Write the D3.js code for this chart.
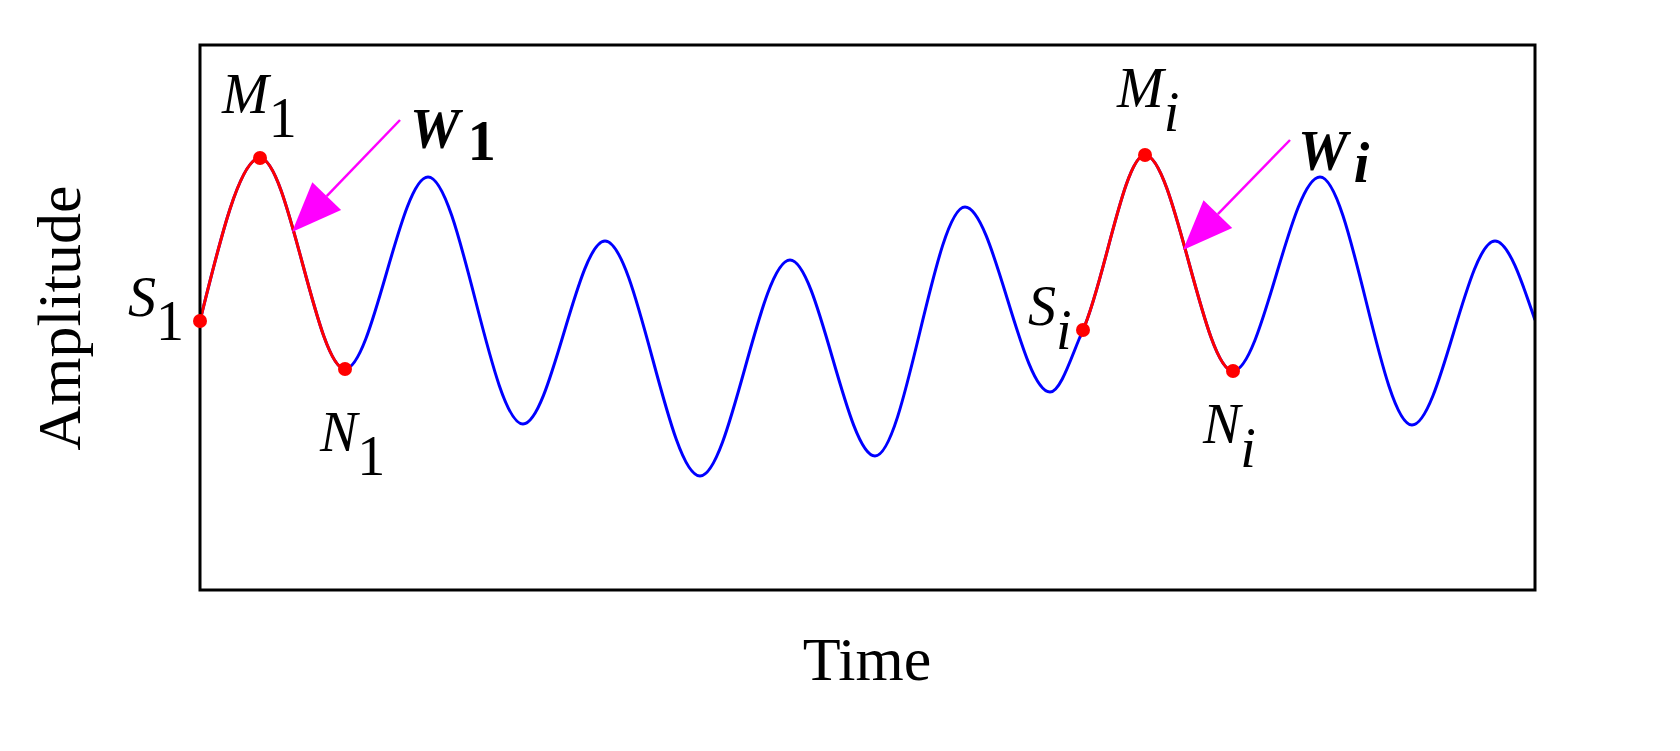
<!DOCTYPE html><html><head><meta charset="utf-8">
<script src="https://cdn.jsdelivr.net/npm/d3@7"></script>
<style>body{margin:0;background:#fff}text{font-family:"Liberation Serif","Times New Roman",serif}</style></head><body>
<svg id="c" width="1680" height="751"></svg>
<script>
// time (arbitrary units) and amplitude of wave extrema / marked points
const times = [0, 60, 145, 228, 323, 405, 500, 590, 675, 765, 850, 883, 945, 1033, 1120, 1212, 1295, 1335];
const amps  = [269, 432, 221, 413, 166, 349, 114, 330, 134, 383, 198, 260, 435, 219, 413, 165, 349, 270];
const marked = [
  {i:0, label:"S", sub:"1", dx:-72, dy:-5},
  {i:1, label:"M", sub:"1", dx:-38, dy:-45},
  {i:2, label:"N", sub:"1", dx:-25, dy:82},
  {i:11, label:"S", sub:"i", dx:-55, dy:-5},
  {i:12, label:"M", sub:"i", dx:-28, dy:-48},
  {i:13, label:"N", sub:"i", dx:-30, dy:72}
];
const redRanges = [[0,2],[11,13]];
const wLabels = [{sub:"1", from:[400,120], to:[292,232], tx:410, ty:148},
                 {sub:"i", from:[1290,140], to:[1183,250], tx:1298, ty:170}];

const svg = d3.select("#c");
const x = d3.scaleLinear().domain([0,1335]).range([200,1535]);
const y = d3.scaleLinear().domain([0,545]).range([590,45]);
const pts = times.map((t,i)=>[t,amps[i]]);
const line = d3.line().x(d=>x(d[0])).y(d=>y(d[1])).curve(d3.curveMonotoneX);

const defs = svg.append("defs");
redRanges.forEach((r,k)=>{
  defs.append("clipPath").attr("id","cl"+k).append("rect")
    .attr("x",x(times[r[0]])-2).attr("width",x(times[r[1]])-x(times[r[0]])+2).attr("y",0).attr("height",751);
});
defs.append("clipPath").attr("id","frame").append("rect").attr("x",200).attr("y",45).attr("width",1335).attr("height",545);

const g = svg.append("g").attr("clip-path","url(#frame)");
g.append("path").attr("d",line(pts)).attr("fill","none").attr("stroke","#0000ff").attr("stroke-width",3);
redRanges.forEach((r,k)=>{
  g.append("g").attr("clip-path",`url(#cl${k})`).append("path").attr("d",line(pts))
   .attr("fill","none").attr("stroke","#ff0000").attr("stroke-width",3);
});
svg.append("rect").attr("x",200).attr("y",45).attr("width",1335).attr("height",545)
  .attr("fill","none").attr("stroke","#000").attr("stroke-width",3);

marked.forEach(m=>{
  const px=x(times[m.i]), py=y(amps[m.i]);
  svg.append("circle").attr("cx",px).attr("cy",py).attr("r",7).attr("fill","#ff0000");
  const t=svg.append("text").attr("x",px+m.dx).attr("y",py+m.dy).attr("font-size",56);
  t.append("tspan").attr("font-style","italic").text(m.label);
  t.append("tspan").attr("dy",24).attr("font-style",m.sub==="i"?"italic":"normal").text(m.sub);
});

wLabels.forEach(w=>{
  const [x1,y1]=w.from,[x2,y2]=w.to;
  const ang=Math.atan2(y2-y1,x2-x1), L=50, H=20;
  const bx=x2-L*Math.cos(ang), by=y2-L*Math.sin(ang);
  svg.append("line").attr("x1",x1).attr("y1",y1).attr("x2",bx).attr("y2",by).attr("stroke","#ff00ff").attr("stroke-width",2.5);
  const nx=-Math.sin(ang), ny=Math.cos(ang);
  svg.append("polygon").attr("points",[[x2,y2],[bx+H*nx,by+H*ny],[bx-H*nx,by-H*ny]].map(p=>p.join(",")).join(" ")).attr("fill","#ff00ff");
  const t=svg.append("text").attr("x",w.tx).attr("y",w.ty).attr("font-size",56).attr("font-weight","bold").attr("font-style","italic");
  t.append("tspan").text("W");
  t.append("tspan").attr("dx",8).attr("dy",12).attr("font-style",w.sub==="i"?"italic":"normal").text(w.sub);
});

svg.append("text").attr("transform","translate(80,318) rotate(-90)").attr("text-anchor","middle").attr("font-size",62).text("Amplitude");
svg.append("text").attr("x",867).attr("y",680).attr("text-anchor","middle").attr("font-size",62).text("Time");
</script></body></html>
